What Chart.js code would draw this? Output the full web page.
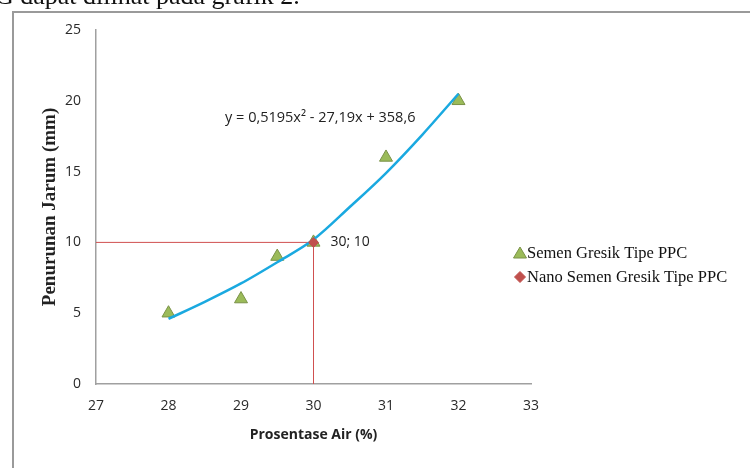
<!DOCTYPE html>
<html>
<head>
<meta charset="utf-8">
<script src="https://cdn.jsdelivr.net/npm/chart.js@4/dist/chart.umd.min.js"></script>
<style>
  html, body { margin: 0; padding: 0; background: #fff; overflow: hidden; }
  #wrap { position: relative; width: 750px; height: 468px; }
  #topline { position: absolute; left: -5px; top: -19px; font: 26px "Liberation Serif", serif; color: #111; white-space: nowrap; }
  canvas { position: absolute; left: 0; top: 0; }
</style>
</head>
<body>
<div id="wrap">
  <canvas id="grafik" width="750" height="468"></canvas>
  <div id="topline">G dapat dilihat pada grafik 2.</div>
</div>
<script>
// data
const airX = [28, 29, 29.5, 30, 31, 32];
const jarumY = [5, 6, 9, 10, 16, 20];
const nanoX = [30];
const nanoY = [10];
const trendX = [28, 28.5, 29, 29.5, 30, 30.5, 31, 31.5, 32];
const trendY = [4.6, 5.8, 7.1, 8.6, 10.2, 12.5, 14.9, 17.6, 20.5];
const guideX = [27, 30, 30];
const guideY = [10, 10, 0];
const xTicks = [27, 28, 29, 30, 31, 32, 33];
const yTicks = [0, 5, 10, 15, 20, 25];
const legendNames = ['Semen Gresik Tipe PPC', 'Nano Semen Gresik Tipe PPC'];
const equation = 'y = 0,5195x\u00B2 - 27,19x + 358,6';

const pts = (xs, ys) => xs.map((x, i) => ({ x: x, y: ys[i] }));

const tickFont = { family: '"Open Sans", sans-serif', size: 14 };

// frame, equation, point label and legend
const extras = {
  id: 'extras',
  beforeDraw(chart) {
    const c = chart.ctx;
    c.save();
    c.strokeStyle = '#9a9a9a';
    c.lineWidth = 2;
    c.strokeRect(13, 12, 800, 600);
    c.restore();
  },
  afterDraw(chart) {
    const c = chart.ctx;
    const xs = chart.scales.x, ys = chart.scales.y;
    c.save();
    c.fillStyle = '#222';
    c.font = '14.5px "Open Sans", sans-serif';
    c.textBaseline = 'middle';
    c.textAlign = 'left';
    c.fillText(equation, xs.getPixelForValue(28.78), ys.getPixelForValue(18.8));
    c.font = '14px "Open Sans", sans-serif';
    c.fillText(nanoX[0] + '; ' + nanoY[0], xs.getPixelForValue(nanoX[0]) + 17, ys.getPixelForValue(nanoY[0]));

    // legend
    const lx = 520, ly = [253, 277];
    c.font = '16.5px "Liberation Serif", serif';
    [0, 1].forEach(i => {
      const ds = chart.data.datasets[i === 0 ? 2 : 0];
      c.fillStyle = ds.backgroundColor;
      c.strokeStyle = ds.borderColor;
      c.lineWidth = 1;
      c.beginPath();
      if (i === 0) {
        c.moveTo(lx, ly[i] - 6); c.lineTo(lx + 6.5, ly[i] + 5); c.lineTo(lx - 6.5, ly[i] + 5);
      } else {
        c.moveTo(lx, ly[i] - 5.5); c.lineTo(lx + 5.5, ly[i]); c.lineTo(lx, ly[i] + 5.5); c.lineTo(lx - 5.5, ly[i]);
      }
      c.closePath(); c.fill(); c.stroke();
      c.fillStyle = '#111';
      c.fillText(legendNames[i], lx + 7, ly[i] + 1);
    });
    c.restore();
  }
};

new Chart(document.getElementById('grafik'), {
  type: 'scatter',
  data: {
    datasets: [
      {
        label: legendNames[1],
        data: pts(nanoX, nanoY),
        pointStyle: 'rectRot',
        pointRadius: 5,
        backgroundColor: '#c0504d',
        borderColor: '#c0504d',
        borderWidth: 1
      },
      {
        label: 'trend',
        data: pts(trendX, trendY),
        showLine: true,
        cubicInterpolationMode: 'monotone',
        borderColor: '#1aa9e0',
        borderWidth: 2.5,
        pointRadius: 0
      },
      {
        label: legendNames[0],
        data: pts(airX, jarumY),
        pointStyle: 'triangle',
        pointRadius: 7.5,
        backgroundColor: '#9bbb59',
        borderColor: '#7a9248',
        borderWidth: 1
      },
      {
        label: 'guide',
        data: pts(guideX, guideY),
        showLine: true,
        borderColor: '#d05050',
        borderWidth: 1,
        pointRadius: 0,
        tension: 0
      }
    ]
  },
  options: {
    responsive: false,
    animation: false,
    events: [],
    layout: { padding: { top: 30, right: 219, left: 0, bottom: 0 } },
    plugins: { legend: { display: false }, tooltip: { enabled: false } },
    scales: {
      x: {
        type: 'linear', min: 27, max: 33,
        afterFit(s) { s.height = 84; },
        afterBuildTicks(s) { s.ticks = xTicks.map(v => ({ value: v })); },
        grid: { display: false, drawTicks: false },
        border: { display: true, color: '#a0a0a0', width: 1.5 },
        ticks: { padding: 14, font: tickFont, color: '#2a2a2a', maxRotation: 0 },
        title: {
          display: true, text: 'Prosentase Air (%)', color: '#222',
          font: { family: '"Open Sans", sans-serif', size: 14, weight: 'bold' },
          padding: { top: 0, bottom: 25 }
        }
      },
      y: {
        type: 'linear', min: 0, max: 25,
        afterFit(s) { s.width = 96; },
        afterBuildTicks(s) { s.ticks = yTicks.map(v => ({ value: v })); },
        grid: { display: false, drawTicks: false },
        border: { display: true, color: '#a0a0a0', width: 1.5 },
        ticks: { padding: 15, font: tickFont, color: '#2a2a2a' },
        title: {
          display: true, text: 'Penurunan Jarum (mm)', color: '#222',
          font: { family: '"Liberation Serif", serif', size: 19, weight: 'bold' },
          padding: { top: 39, bottom: 0 }
        }
      }
    }
  },
  plugins: [extras]
});
</script>
</body>
</html>
